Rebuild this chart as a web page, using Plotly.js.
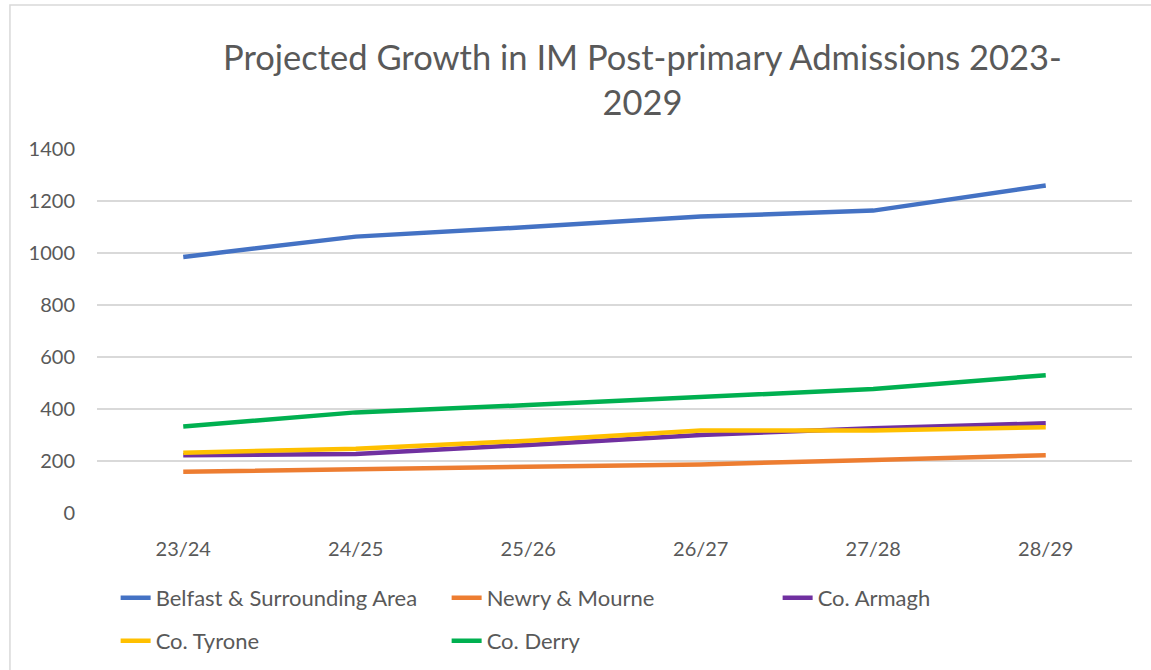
<!DOCTYPE html>
<html>
<head>
<meta charset="utf-8">
<script src="https://cdn.plot.ly/plotly-3.0.1.min.js"></script>
<style>html,body{margin:0;padding:0;background:#fff;}#chart{width:1151px;height:670px;}</style>
</head>
<body>
<div id="chart"></div>
<script>
const categories = ["23/24", "24/25", "25/26", "26/27", "27/28", "28/29"];
const seriesNames = ["Belfast & Surrounding Area", "Newry & Mourne", "Co. Armagh", "Co. Tyrone", "Co. Derry"];
const belfast = [985, 1063, 1100, 1140, 1163, 1260];
const newry = [159, 169, 178, 187, 204, 222];
const armagh = [222, 227, 262, 300, 326, 345];
const tyrone = [232, 247, 278, 317, 317, 330];
const derry = [333, 387, 415, 447, 477, 530];
const yTicks = [0, 200, 400, 600, 800, 1000, 1200, 1400];

const seriesValues = [belfast, newry, armagh, tyrone, derry];
const colors = ["#4472C4", "#ED7D31", "#7030A0", "#FFC000", "#00B050"];
const legendRow = ["legend", "legend", "legend", "legend2", "legend2"];
const FONT = "Lato, 'Open Sans', sans-serif";

const traces = seriesValues.map((vals, i) => ({
  type: "scatter",
  mode: "lines",
  x: categories,
  y: vals,
  name: seriesNames[i],
  legend: legendRow[i],
  line: {color: colors[i], width: 4.5},
  hoverinfo: "x+y+name"
}));

const legendBase = {
  orientation: "h",
  x: 0.018, xanchor: "left",
  yanchor: "middle",
  entrywidth: 286,
  entrywidthmode: "pixels",
  traceorder: "normal",
  font: {family: FONT, size: 22, color: "#595959"},
  itemwidth: 30,
  bgcolor: "rgba(0,0,0,0)"
};

const layout = {
  width: 1151,
  height: 670,
  paper_bgcolor: "#ffffff",
  plot_bgcolor: "#ffffff",
  margin: {l: 97, r: 19, t: 149, b: 157, autoexpand: false},
  font: {family: FONT, color: "#595959"},
  title: {
    text: "Projected Growth in IM Post-primary Admissions 2023-<br>2029",
    font: {family: FONT, size: 34.5, color: "#595959"},
    x: 0.527, xref: "paper", xanchor: "center",
    y: 0.895, yref: "container", yanchor: "top"
  },
  xaxis: {
    type: "category",
    range: [-0.5, 5.5],
    showgrid: false,
    showline: false,
    zeroline: false,
    ticks: "",
    tickfont: {family: FONT, size: 20, color: "#595959"},
    ticklabelstandoff: 22
  },
  yaxis: {
    range: [0, 1400],
    tickvals: yTicks,
    ticktext: yTicks.map(String),
    showgrid: true,
    gridcolor: "#d9d9d9",
    gridwidth: 1.5,
    zeroline: false,
    showline: false,
    ticks: "",
    tickfont: {family: FONT, size: 20, color: "#595959"},
    ticklabelstandoff: 21
  },
  showlegend: true,
  legend: Object.assign({}, legendBase, {y: -0.2335}),
  legend2: Object.assign({}, legendBase, {y: -0.3516}),
  shapes: [{
    type: "rect", xref: "paper", yref: "paper",
    x0: -0.0841, x1: 1.2, y0: -0.6, y1: 1.3956,
    line: {color: "#d9d9d9", width: 1.5},
    fillcolor: "rgba(0,0,0,0)",
    layer: "below"
  }]
};

Plotly.newPlot("chart", traces, layout, {displayModeBar: false, responsive: false});
</script>
</body>
</html>
